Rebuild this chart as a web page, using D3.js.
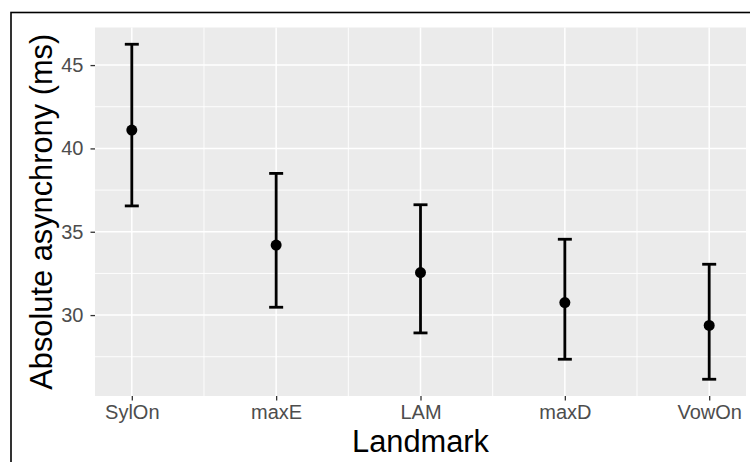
<!DOCTYPE html>
<html>
<head>
<meta charset="utf-8">
<script src="https://cdn.jsdelivr.net/npm/d3@7"></script>
<style>
  html, body { margin: 0; padding: 0; background: #fff; }
  svg { display: block; }
  text { font-family: "Liberation Sans", Arial, sans-serif; }
</style>
</head>
<body>
<svg id="chart" width="750" height="462"></svg>
<script>
// Landmarks and mean absolute asynchrony with error-bar bounds (ms)
const landmarks = ["SylOn", "maxE", "LAM", "maxD", "VowOn"];
const means     = [41.1, 34.2, 32.55, 30.75, 29.38];
const lower     = [36.55, 30.47, 28.93, 27.35, 26.15];
const upper     = [46.25, 38.5, 36.62, 34.55, 33.05];
const yTicks    = [30, 35, 40, 45];
const yMinor    = [27.5, 32.5, 37.5, 42.5, 47.5];

const svg = d3.select("#chart");
const W = 750, H = 462;

// outer frame (runs off the right and bottom edges)
svg.append("rect")
  .attr("x", 11).attr("y", 12.5)
  .attr("width", W).attr("height", H)
  .attr("fill", "none").attr("stroke", "#000").attr("stroke-width", 1.6);

const panel = { left: 95, top: 27.5, right: 746, bottom: 396 };

const lo = d3.min(lower), hi = d3.max(upper);
const pad = (hi - lo) * 0.05;
const y = d3.scaleLinear()
  .domain([lo - pad, hi + pad])
  .range([panel.bottom, panel.top]);

const x = d3.scalePoint()
  .domain(landmarks)
  .range([panel.left, panel.right])
  .padding(0.255);

// panel background
svg.append("rect")
  .attr("x", panel.left).attr("y", panel.top)
  .attr("width", panel.right - panel.left)
  .attr("height", panel.bottom - panel.top)
  .attr("fill", "#EBEBEB");

const grid = svg.append("g");
// minor horizontal grid
grid.selectAll("line.ymin")
  .data(yMinor.filter(v => y(v) >= panel.top && y(v) <= panel.bottom))
  .join("line")
  .attr("x1", panel.left).attr("x2", panel.right)
  .attr("y1", d => y(d)).attr("y2", d => y(d))
  .attr("stroke", "#fff").attr("stroke-width", 0.9);
// minor vertical grid between categories
const step = x.step();
grid.selectAll("line.xmin")
  .data(landmarks.slice(0, -1))
  .join("line")
  .attr("x1", d => x(d) + step / 2).attr("x2", d => x(d) + step / 2)
  .attr("y1", panel.top).attr("y2", panel.bottom)
  .attr("stroke", "#fff").attr("stroke-width", 0.9);
// major grid
grid.selectAll("line.ymaj")
  .data(yTicks)
  .join("line")
  .attr("x1", panel.left).attr("x2", panel.right)
  .attr("y1", d => y(d)).attr("y2", d => y(d))
  .attr("stroke", "#fff").attr("stroke-width", 1.5);
grid.selectAll("line.xmaj")
  .data(landmarks)
  .join("line")
  .attr("x1", d => x(d)).attr("x2", d => x(d))
  .attr("y1", panel.top).attr("y2", panel.bottom)
  .attr("stroke", "#fff").attr("stroke-width", 1.5);

// axes
const yAxis = svg.append("g")
  .attr("transform", `translate(${panel.left},0)`)
  .call(d3.axisLeft(y).tickValues(yTicks).tickSize(4.5).tickPadding(7));
const xAxis = svg.append("g")
  .attr("transform", `translate(0,${panel.bottom})`)
  .call(d3.axisBottom(x).tickSize(4.5).tickPadding(4.3));
[yAxis, xAxis].forEach(g => {
  g.select(".domain").remove();
  g.selectAll(".tick line").attr("stroke", "#333").attr("stroke-width", 1.3);
  g.selectAll(".tick text")
    .attr("fill", "#4D4D4D")
    .style("font-size", "20px")
    .style("font-family", "'Liberation Sans', Arial, sans-serif");
});

// error bars
const bars = svg.append("g");
const capHalf = 7;
landmarks.forEach((lm, i) => {
  const cx = x(lm);
  bars.append("line")
    .attr("x1", cx).attr("x2", cx)
    .attr("y1", y(lower[i])).attr("y2", y(upper[i]))
    .attr("stroke", "#000").attr("stroke-width", 2.8);
  [lower[i], upper[i]].forEach(v => {
    bars.append("line")
      .attr("x1", cx - capHalf).attr("x2", cx + capHalf)
      .attr("y1", y(v)).attr("y2", y(v))
      .attr("stroke", "#000").attr("stroke-width", 2.8);
  });
});

// mean points
svg.append("g").selectAll("circle")
  .data(landmarks)
  .join("circle")
  .attr("cx", d => x(d))
  .attr("cy", (d, i) => y(means[i]))
  .attr("r", 5.5)
  .attr("fill", "#000");

// axis titles
svg.append("text")
  .attr("x", (panel.left + panel.right) / 2)
  .attr("y", 452)
  .attr("text-anchor", "middle")
  .style("font-size", "30.8px")
  .attr("fill", "#000")
  .text("Landmark");

svg.append("text")
  .attr("transform", `translate(52,${(panel.top + panel.bottom) / 2}) rotate(-90)`)
  .attr("text-anchor", "middle")
  .style("font-size", "30.8px")
  .attr("fill", "#000")
  .text("Absolute asynchrony (ms)");
</script>
</body>
</html>
